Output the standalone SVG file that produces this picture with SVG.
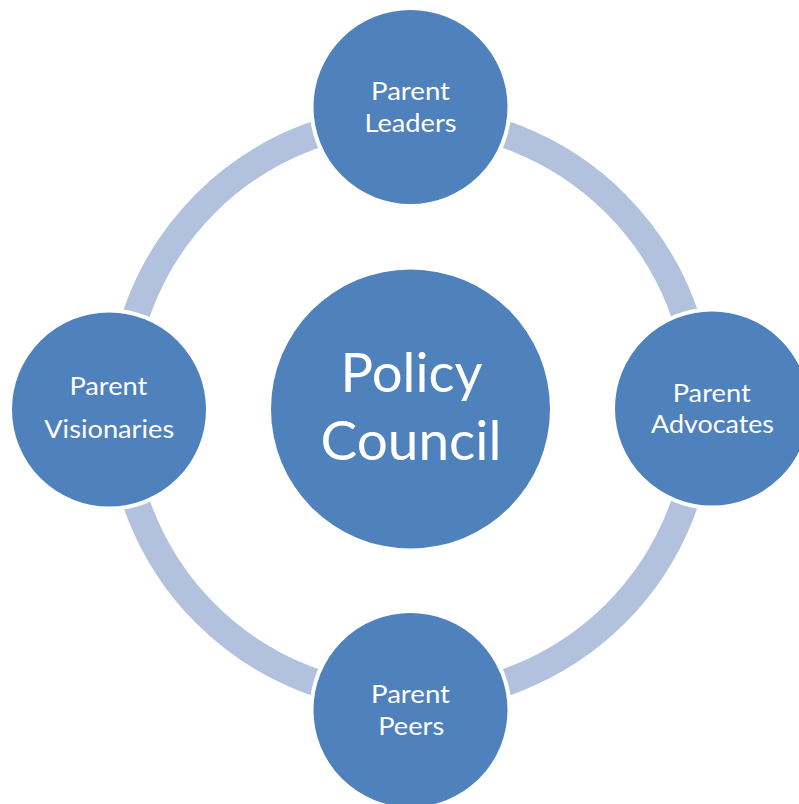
<svg xmlns="http://www.w3.org/2000/svg" width="799" height="804" viewBox="0 0 799 804">
<defs>
<style>
.ring{fill:none;stroke:#B1C1DE;stroke-width:27}
.node{fill:#4F81BD;stroke:#FFFFFF;stroke-width:4}
.hub{fill:#4F81BD;stroke:none}
.lbl{font-family:Lato,"Open Sans","Liberation Sans",sans-serif;fill:#FFFFFF;text-anchor:middle;font-size:25.5px}
.big{font-family:Lato,"Open Sans","Liberation Sans",sans-serif;fill:#FFFFFF;text-anchor:middle;font-size:55px}
</style>
</defs>
<rect width="799" height="804" fill="#FFFFFF"/>
<g id="connectors">
<path class="ring" d="M410.5,118.5 A290,290 0 0 1 700.5,408.5"/>
<path class="ring" d="M700.5,408.5 A290,290 0 0 1 410.5,698.5"/>
<path class="ring" d="M410.5,698.5 A290,290 0 0 1 120.5,408.5"/>
<path class="ring" d="M120.5,408.5 A290,290 0 0 1 410.5,118.5"/>
</g>
<g id="policy-council">
<circle class="hub" cx="410.5" cy="409" r="139.5"/>
<text class="big" x="411.5" y="391.7" textLength="142" lengthAdjust="spacingAndGlyphs">Policy</text>
<text class="big" x="411" y="460" textLength="181" lengthAdjust="spacingAndGlyphs">Council</text>
</g>
<g id="parent-leaders">
<circle class="node" cx="410.5" cy="107" r="99"/>
<text class="lbl" x="410.5" y="100" textLength="79" lengthAdjust="spacingAndGlyphs">Parent</text>
<text class="lbl" x="410.5" y="131.7" textLength="92" lengthAdjust="spacingAndGlyphs">Leaders</text>
</g>
<g id="parent-advocates">
<circle class="node" cx="712" cy="408.5" r="99"/>
<text class="lbl" x="711.7" y="401.7" textLength="78" lengthAdjust="spacingAndGlyphs">Parent</text>
<text class="lbl" x="712.5" y="433.3" textLength="123" lengthAdjust="spacingAndGlyphs">Advocates</text>
</g>
<g id="parent-peers">
<circle class="node" cx="410.5" cy="710" r="99"/>
<text class="lbl" x="410.5" y="702.7" textLength="79" lengthAdjust="spacingAndGlyphs">Parent</text>
<text class="lbl" x="411.2" y="735" textLength="66" lengthAdjust="spacingAndGlyphs">Peers</text>
</g>
<g id="parent-visionaries">
<circle class="node" cx="109" cy="409.5" r="99"/>
<text class="lbl" x="108.4" y="395" textLength="78" lengthAdjust="spacingAndGlyphs">Parent</text>
<text class="lbl" x="109.2" y="438.3" textLength="130" lengthAdjust="spacingAndGlyphs">Visionaries</text>
</g>
</svg>
